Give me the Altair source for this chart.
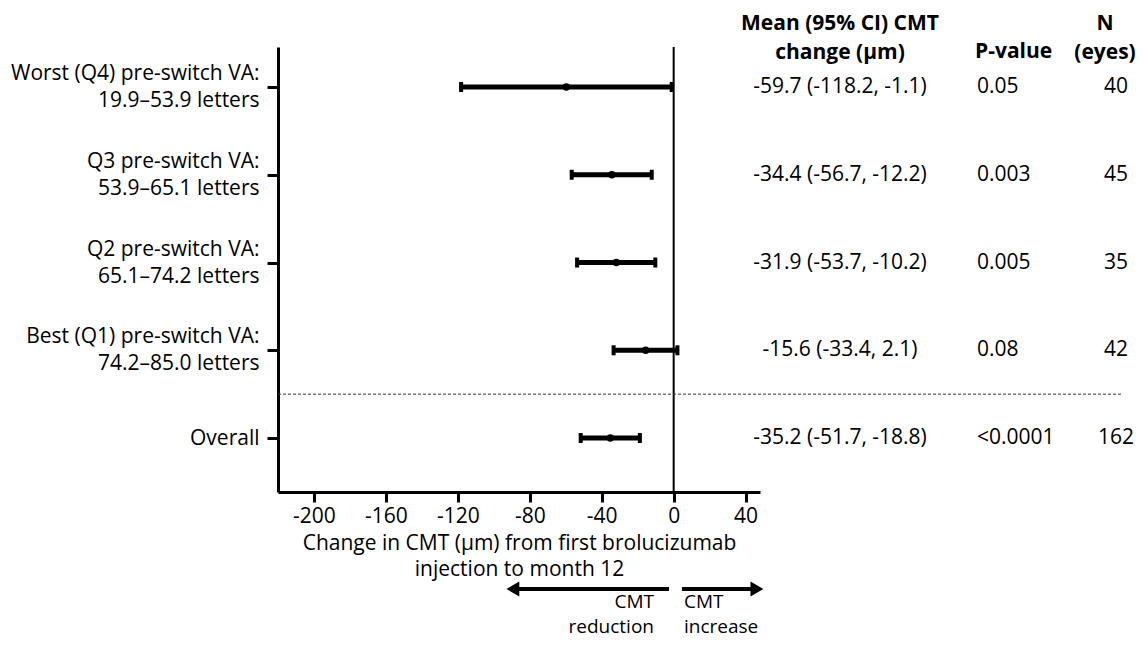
import json
import altair as alt
import pandas as pd

# ---- data ----
group_line1 = ["Worst (Q4) pre-switch VA:", "Q3 pre-switch VA:", "Q2 pre-switch VA:",
               "Best (Q1) pre-switch VA:", "Overall"]
group_line2 = ["19.9–53.9 letters", "53.9–65.1 letters", "65.1–74.2 letters",
               "74.2–85.0 letters", ""]
rows = [1, 2, 3, 4, 5]
means = [-59.7, -34.4, -31.9, -15.6, -35.2]
ci_low = [-118.2, -56.7, -53.7, -33.4, -51.7]
ci_high = [-1.1, -12.2, -10.2, 2.1, -18.8]
ci_text = ["-59.7 (-118.2, -1.1)", "-34.4 (-56.7, -12.2)", "-31.9 (-53.7, -10.2)",
           "-15.6 (-33.4, 2.1)", "-35.2 (-51.7, -18.8)"]
p_values = ["0.05", "0.003", "0.005", "0.08", "<0.0001"]
n_eyes = ["40", "45", "35", "42", "162"]
x_ticks = [-200, -160, -120, -80, -40, 0, 40]
separator_row = 4.5
arrow_start = [-2.6, 4.6]
arrow_head = [-89.4, 46.3]
arrow_shape = ["triangle-left", "triangle-right"]

df = pd.DataFrame({"row": rows, "mean": means, "lo": ci_low, "hi": ci_high,
                   "ci": ci_text, "p": p_values, "n": n_eyes})
arrows = pd.DataFrame({"start": arrow_start, "head": arrow_head, "shape": arrow_shape})
one = pd.DataFrame({"k": [0]})

# ---- y label expression (multi-line labels) ----
parts = []
for r, l1, l2 in zip(rows, group_line1, group_line2):
    lab = [l1, l2] if l2 else [l1]
    parts.append(f"datum.value == {r} ? {json.dumps(lab, ensure_ascii=False)}")
label_expr = " : ".join(parts) + " : ''"
single_rows = [r for r, l2 in zip(rows, group_line2) if not l2]
single_test = " || ".join(f"datum.value == {r}" for r in single_rows) or "false"

W, H = 482, 445
FS = 21
LH = 27
FONT = "Open Sans"
xscale = alt.Scale(domain=[-220, 48], nice=False, zero=False)
yscale = alt.Scale(domain=[0.544, 5.615], reverse=True, nice=False, zero=False)

xaxis = alt.Axis(values=x_ticks, tickSize=10, tickWidth=3, domainWidth=3,
                 domainColor="black", tickColor="black", labelColor="black",
                 labelExpr="datum.value < 0 ? '-' + abs(datum.value) : '' + datum.value",
                 labelFontSize=FS, labelPadding=3, labelFlush=False, grid=False,
                 title=["Change in CMT (µm) from first brolucizumab", "injection to month 12"],
                 titleFontSize=FS, titleFontWeight="normal", titleColor="black",
                 titleLineHeight=26, titlePadding=6)
yaxis = alt.Axis(values=rows, labelExpr=label_expr, tickSize=11, tickWidth=3,
                 domainWidth=3, domainColor="black", tickColor="black",
                 labelColor="black", labelFontSize=FS, labelLineHeight=LH,
                 labelOffset={"condition": {"test": single_test, "value": 0},
                              "value": -LH / 2},
                 labelLimit=400, labelPadding=8, grid=False, title=None)


def X(field=None, datum=None):
    if datum is not None:
        return alt.X(datum=datum, scale=xscale, axis=xaxis)
    return alt.X(field, type="quantitative", scale=xscale, axis=xaxis)


def Y(field=None, datum=None):
    if datum is not None:
        return alt.Y(datum=datum, scale=yscale, axis=yaxis)
    return alt.Y(field, type="quantitative", scale=yscale, axis=yaxis)


base = alt.Chart(df)

bars = base.mark_rule(strokeWidth=5, color="black").encode(x=X("lo"), x2="hi:Q", y=Y("row"))
cap_lo = base.mark_tick(orient="vertical", size=10, thickness=4, color="black",
                        opacity=1).encode(x=X("lo"), y=Y("row"))
cap_hi = base.mark_tick(orient="vertical", size=10, thickness=4, color="black",
                        opacity=1).encode(x=X("hi"), y=Y("row"))
dots = base.mark_circle(size=55, color="black", opacity=1).encode(x=X("mean"), y=Y("row"))

zero_line = alt.Chart(one).mark_rule(strokeWidth=2, color="black").encode(
    x=X(datum=0), y=alt.value(0), y2=alt.value(H))
sep_line = alt.Chart(one).mark_rule(strokeWidth=1, strokeDash=[3, 2], color="#333").encode(
    x=alt.value(0), x2=alt.value(843), y=Y(datum=separator_row))

ci_col = base.mark_text(align="center", baseline="middle", fontSize=FS, color="black").encode(
    x=alt.value(562), y=Y("row"), text="ci:N")
p_col = base.mark_text(align="left", baseline="middle", fontSize=FS, color="black").encode(
    x=alt.value(699), y=Y("row"), text="p:N")
n_col = base.mark_text(align="center", baseline="middle", fontSize=FS, color="black").encode(
    x=alt.value(838), y=Y("row"), text="n:N")

h1 = alt.Chart(one).mark_text(text=["Mean (95% CI) CMT", "change (µm)"], align="center",
                              baseline="middle", fontSize=FS, fontWeight="bold",
                              lineHeight=29, color="black").encode(
    x=alt.value(562), y=alt.value(-23))
h2 = alt.Chart(one).mark_text(text="P-value", align="left", baseline="middle", fontSize=FS,
                              fontWeight="bold", color="black").encode(
    x=alt.value(697), y=alt.value(5))
h3 = alt.Chart(one).mark_text(text=["N", "(eyes)"], align="center", baseline="middle",
                              fontSize=FS, fontWeight="bold", lineHeight=29,
                              color="black").encode(
    x=alt.value(827), y=alt.value(-23))

arrow_shaft = alt.Chart(arrows).mark_rule(strokeWidth=4, color="black").encode(
    x=X("start"), x2="head:Q", y=alt.value(542))
arrow_tip = alt.Chart(arrows).mark_point(filled=True, size=220, color="black", opacity=1).encode(
    x=X("head"), y=alt.value(542),
    shape=alt.Shape("shape:N", scale=None, legend=None))

lab_red = alt.Chart(one).mark_text(text=["CMT", "reduction"], align="right",
                                   baseline="alphabetic", fontSize=19, lineHeight=25,
                                   color="black").encode(
    x=alt.value(376), y=alt.value(561))
lab_inc = alt.Chart(one).mark_text(text=["CMT", "increase"], align="left",
                                   baseline="alphabetic", fontSize=19, lineHeight=25,
                                   color="black").encode(
    x=alt.value(406), y=alt.value(561))

chart = alt.layer(
    bars, cap_lo, cap_hi, dots, zero_line, sep_line, ci_col, p_col, n_col,
    h1, h2, h3, arrow_shaft, arrow_tip, lab_red, lab_inc
).properties(
    width=W, height=H,
    padding={"left": 270, "top": 39, "right": 377, "bottom": 146},
    autosize=alt.AutoSizeParams(type="none"),
).configure(font=FONT).configure_view(stroke=None)

chart.save("out.html", embed_options={"renderer": "svg", "actions": False})
